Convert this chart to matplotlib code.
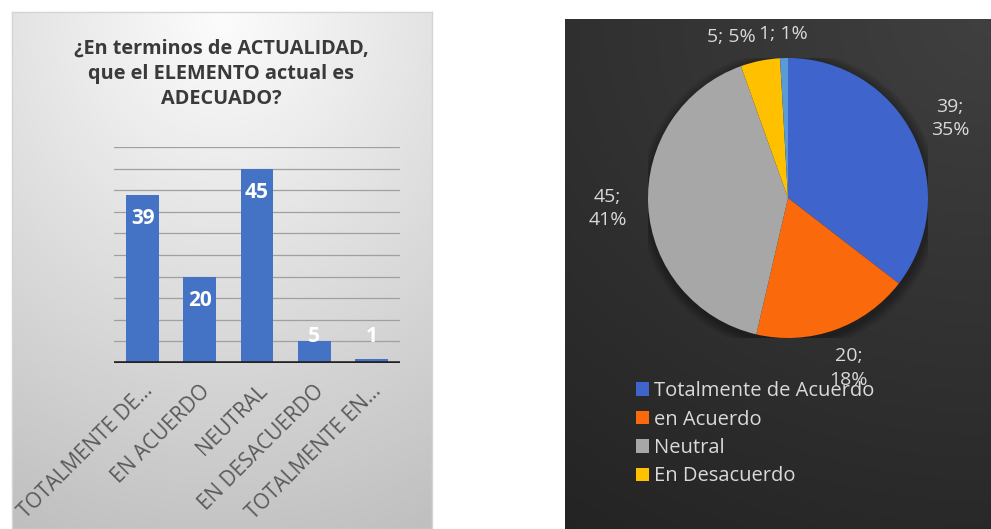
import numpy as np
import matplotlib.pyplot as plt
from matplotlib.patches import Circle

# survey answers
categorias = ["TOTALMENTE DE...", "EN ACUERDO", "NEUTRAL", "EN DESACUERDO", "TOTALMENTE EN..."]
leyenda = ["Totalmente de Acuerdo", "en Acuerdo", "Neutral", "En Desacuerdo", "Totalmente en Desacuerdo"]
valores = [39, 20, 45, 5, 1]
titulo = "¿En terminos de ACTUALIDAD,\nque el ELEMENTO actual es\nADECUADO?"

colores_pie = ["#3F65CC", "#FA6A0C", "#A7A7A7", "#FFC000", "#5B9BD5"]
color_barra = "#4472C4"

plt.rcParams["font.family"] = ["Open Sans", "DejaVu Sans"]

W, H = 991, 529
fig = plt.figure(figsize=(W / 100, H / 100), dpi=100)
fig.patch.set_facecolor("white")


def box(x0, y0, x1, y1):
    return [x0 / W, 1 - y1 / H, (x1 - x0) / W, (y1 - y0) / H]


# ---- left card: light radial gradient ----
bg = fig.add_axes(box(12, 12, 432, 529), zorder=0)
xx, yy = np.meshgrid(np.linspace(0, 1, 200), np.linspace(0, 1, 250))
d = np.sqrt(((xx - 0.5) * 0.9) ** 2 + (yy * 1.0) ** 2)
g = np.clip(0.99 - 0.22 * d, 0, 1)
bg.imshow(np.dstack([g, g, g]), aspect="auto", extent=(0, 1, 1, 0))
bg.set_xlim(0, 1)
bg.set_ylim(1, 0)
bg.set_xticks([])
bg.set_yticks([])
for s in bg.spines.values():
    s.set_color("#D4D4D4")
    s.set_linewidth(1)

fig.text(221 / W, 1 - 74 / H, titulo, ha="center", va="center", fontsize=14.3,
         fontweight="bold", color="#3A3A3A", linespacing=1.35)

ax = fig.add_axes(box(114, 147, 400, 363), zorder=2)
ax.patch.set_alpha(0)
x = np.arange(len(valores))
ax.bar(x, valores, width=0.57, color=color_barra, zorder=2)
ax.set_xlim(-0.5, 4.5)
ax.set_ylim(0, 50)
ax.set_yticks(np.arange(5, 51, 5))
ax.yaxis.grid(True, color="#A0A0A0", linewidth=0.9)
ax.set_axisbelow(True)
ax.tick_params(left=False, bottom=False, labelleft=False, labelbottom=False)
for s in ax.spines.values():
    s.set_visible(False)
ax.axhline(0, color="#222222", linewidth=2.6, zorder=3)

for i, v in enumerate(valores):
    ax.annotate(str(v), xy=(i, max(v, 11.6)), xytext=(0, -17), textcoords="offset points",
                ha="center", va="center", color="white", fontsize=15, fontweight="bold")
    ax.annotate(categorias[i], xy=(i, 0), xytext=(5, -18), textcoords="offset points",
                ha="right", va="center", rotation=45, rotation_mode="anchor",
                color="#595959", fontsize=15, annotation_clip=False)

# ---- right card: dark gradient ----
bg2 = fig.add_axes(box(565, 19, 991, 529), zorder=0)
xx, yy = np.meshgrid(np.linspace(0, 1, 200), np.linspace(0, 1, 250))
g2 = 0.25 - 0.09 * np.sqrt((xx - 1.0) ** 2 * 0.5 + yy ** 2)
bg2.imshow(np.dstack([g2, g2, g2]), aspect="auto", extent=(0, 1, 1, 0))
bg2.set_xlim(0, 1)
bg2.set_ylim(1, 0)
bg2.axis("off")

pax = fig.add_axes(box(648, 58, 928, 338), zorder=2)
pax.patch.set_alpha(0)
for k in range(6):
    pax.add_patch(Circle((0.01, -0.02), 1.0 + 0.012 * (k + 1), color="black",
                         alpha=0.06, zorder=0, linewidth=0))
wedges, _ = pax.pie(valores, colors=colores_pie, startangle=90, counterclock=False,
                    radius=1, wedgeprops=dict(linewidth=0))
pax.set_xlim(-1, 1)
pax.set_ylim(-1, 1)
pax.set_aspect("equal")
pax.axis("off")

total = sum(valores)
for w, v in zip(wedges, valores):
    frac = v / total
    ang = np.deg2rad((w.theta1 + w.theta2) / 2)
    pct = int(round(100 * frac + 1e-9))
    if frac > 0.1:
        txt = f"{v};\n{pct}%"
        r = 1.29
        ha = "center"
    else:
        txt = f"{v}; {pct}%"
        r = 1.17
        ha = "center" if abs(np.cos(ang)) < 0.1 else ("right" if np.cos(ang) < 0 else "left")
    pax.text(r * np.cos(ang), r * np.sin(ang), txt, ha=ha, va="center",
             color="#D9D9D9", fontsize=14, linespacing=1.4, clip_on=False)

leg = fig.legend(wedges[:4], leyenda[:4], loc="upper left",
                 bbox_to_anchor=(628 / W, 1 - 373 / H), frameon=False,
                 fontsize=14.5, labelcolor="#DADADA", handlelength=0.65, handleheight=0.65,
                 handletextpad=0.25, labelspacing=0.42, borderaxespad=0)
leg.set_zorder(5)

fig.savefig("out.png", dpi=100)
